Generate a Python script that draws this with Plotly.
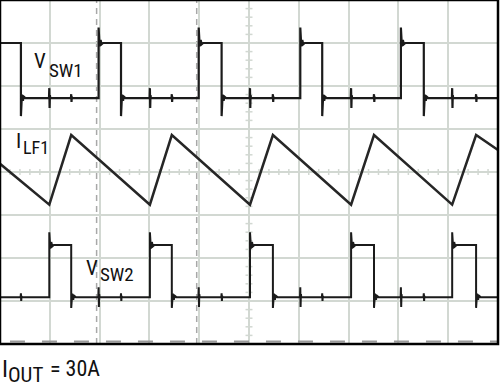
import plotly.graph_objects as go

# ---- data (x in time divisions, y in vertical divisions) ----
vsw1_rise = [1.98, 3.99, 6.03, 8.05]
vsw1_fall = [0.42, 2.43, 4.45, 6.47, 8.51]
vsw1_high, vsw1_low = 7.00, 5.72
vsw1_spike_top, vsw1_spike_bottom = 7.36, 5.30

vsw2_rise = [0.99, 3.01, 5.02, 7.05, 9.08]
vsw2_fall = [1.43, 3.45, 5.48, 7.51, 9.56]
vsw2_high, vsw2_low = 2.30, 1.09
vsw2_spike_top, vsw2_spike_bottom = 2.60, 0.84

ilf1_t = [0.0, 0.99, 1.43, 3.01, 3.45, 5.02, 5.48, 7.05, 7.51, 9.08, 9.56, 10.0]
ilf1_i = [4.19, 3.24, 4.86, 3.24, 4.86, 3.24, 4.86, 3.24, 4.86, 3.24, 4.86, 4.51]

xtalk_big = 0.23
xtalk_small = 0.09
cursor_x = [1.94, 3.95]

W, H = 500, 390
ML, MR, MT, MB = 0, 2, 0, 46
PW, PH = W - ML - MR, H - MT - MB


def switch_wave(rises, falls, high, low, top, bottom, xt_big, xt_small, start_high):
    ev = [(t, 'r') for t in rises] + [(t, 'f') for t in falls]
    ev += [(t, 'b') for t in xt_big] + [(t, 's') for t in xt_small]
    ev.sort()
    lvl = high if start_high else low
    xs, ys = [0.0], [lvl]
    for t, k in ev:
        if k == 'r':
            xs += [t, t, t + 0.02, t + 0.04, t + 0.06, t + 0.09]
            ys += [low, top, high - 0.08, high + 0.07, high - 0.03, high]
            lvl = high
        elif k == 'f':
            xs += [t, t, t + 0.02, t + 0.04, t + 0.06, t + 0.09]
            ys += [high, bottom, low + 0.08, low - 0.06, low + 0.03, low]
            lvl = low
        else:
            a = xtalk_big if k == 'b' else xtalk_small
            xs += [t - 0.006, t, t + 0.006, t + 0.012, t + 0.02]
            ys += [lvl, lvl + a, lvl - a, lvl + a * 0.3, lvl]
    xs.append(10.0)
    ys.append(lvl)
    return xs, ys


x1, y1 = switch_wave(vsw1_rise, vsw1_fall, vsw1_high, vsw1_low,
                     vsw1_spike_top, vsw1_spike_bottom, vsw2_rise, vsw2_fall, True)
x2, y2 = switch_wave(vsw2_rise, vsw2_fall, vsw2_high, vsw2_low,
                     vsw2_spike_top, vsw2_spike_bottom, vsw1_rise, vsw1_fall, False)

fig = go.Figure()
grid_c = '#d2d8d2'
trace_c = '#1b1b1b'

# minor ticks on centre lines
mx, my = [], []
for k in range(1, 50):
    t = k * 0.2
    mx += [t, t, None]
    my += [3.93, 4.07, None]
for k in range(1, 40):
    t = k * 0.2
    mx += [4.93, 5.07, None]
    my += [t, t, None]
fig.add_trace(go.Scatter(x=mx, y=my, mode='lines', line=dict(color=grid_c, width=1.5),
                         hoverinfo='skip', showlegend=False))

# bottom dashed marker line
fig.add_trace(go.Scatter(x=[0.2, 10], y=[0.06, 0.06], mode='lines',
                         line=dict(color='#9a9a9a', width=2, dash='15px,17px'),
                         hoverinfo='skip', showlegend=False))

fig.add_trace(go.Scatter(x=x1, y=y1, mode='lines', line=dict(color=trace_c, width=2.2),
                         showlegend=False))
fig.add_trace(go.Scatter(x=x2, y=y2, mode='lines', line=dict(color=trace_c, width=2),
                         showlegend=False))
fig.add_trace(go.Scatter(x=ilf1_t, y=ilf1_i, mode='lines', line=dict(color='#262626', width=2.5),
                         showlegend=False))

shapes = []
for cx in cursor_x:
    shapes.append(dict(type='line', xref='x', yref='paper', x0=cx, x1=cx, y0=0, y1=1,
                       line=dict(color='#a8a8a8', width=1.5, dash='6px,5px'), layer='below'))
shapes.append(dict(type='rect', xref='paper', yref='paper', x0=0, x1=1, y0=0, y1=1,
                   line=dict(color='#000000', width=2.5)))

FONT = "Roboto Condensed, Liberation Sans Narrow, DejaVu Sans Condensed, Arial Narrow, sans-serif"


def ann(text, px, pyc, size):
    return dict(text=text, xref='paper', yref='paper', x=(px - ML) / PW,
                y=(H - MB - pyc) / PH, xanchor='left', yanchor='middle', showarrow=False,
                borderpad=0, font=dict(family=FONT, size=size, color='#111111'))


annotations = [
    ann('V', 33, 61, 21), ann('SW1', 48, 70, 19),
    ann('I', 15, 141, 21), ann('LF1', 22, 147, 18),
    ann('V', 85, 268, 21), ann('SW2', 99, 274, 19),
    ann('I', 1, 369, 24), ann('OUT', 7, 375, 21), ann('= 30A', 49, 369, 22),
]

fig.update_layout(
    width=W, height=H, margin=dict(l=ML, r=MR, t=MT, b=MB),
    paper_bgcolor='white', plot_bgcolor='white',
    xaxis=dict(range=[0, 10], dtick=1, showgrid=True, gridcolor=grid_c, gridwidth=2,
               showticklabels=False, zeroline=False, ticks=''),
    yaxis=dict(range=[0, 8], dtick=1, showgrid=True, gridcolor=grid_c, gridwidth=2,
               showticklabels=False, zeroline=False, ticks=''),
    shapes=shapes, annotations=annotations,
)

fig.write_html("out.html")
